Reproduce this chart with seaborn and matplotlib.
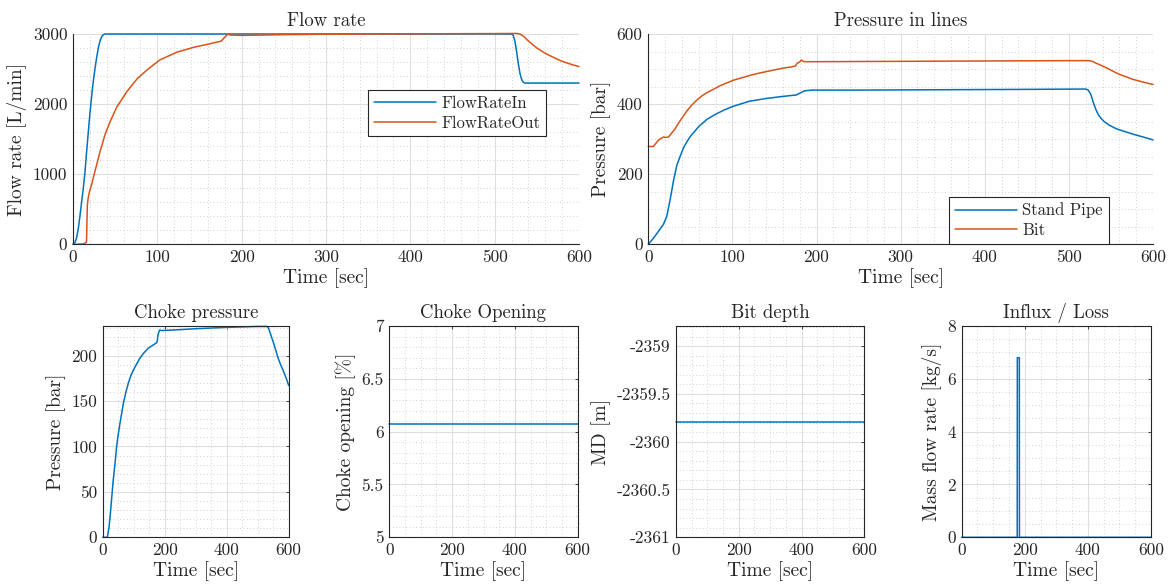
import matplotlib
matplotlib.use("Agg")
import matplotlib.pyplot as plt
import seaborn as sns
from matplotlib.ticker import MultipleLocator, FuncFormatter

# ---- Flow rate [L/min] ----
flow_in_t = [0, 2, 4, 6, 8, 10, 12, 14, 16, 18, 20, 22, 24, 26, 28, 30, 32, 34, 36, 38,
             520, 522, 524, 526, 528, 530, 532, 534, 536, 600]
flow_in = [0, 20, 80, 200, 380, 580, 780, 1000, 1300, 1580, 1860, 2100, 2320, 2500, 2660,
           2800, 2900, 2960, 2990, 3000,
           3000, 2980, 2900, 2750, 2580, 2440, 2350, 2310, 2300, 2300]
flow_out_t = [0, 12, 15, 16, 17, 18, 19.5, 22, 26, 32, 38, 44, 52, 64, 76, 88, 103, 123, 143,
              162, 176, 178, 182, 184, 186, 200, 250, 300, 400, 500, 526, 530, 535, 540, 550,
              560, 570, 580, 590, 600]
flow_out = [0, 5, 20, 30, 560, 660, 750, 850, 1040, 1320, 1565, 1750, 1960, 2180, 2360, 2490,
            2630, 2740, 2810, 2860, 2900, 2930, 2980, 3000, 2985, 2980, 2990, 2997, 3002, 3006,
            3008, 3000, 2960, 2900, 2800, 2725, 2665, 2610, 2570, 2535]

# ---- Pressure in lines [bar] ----
sp_t = [0, 6, 12, 18, 22, 26, 30, 34, 38, 42, 46, 50, 55, 60, 70, 80, 90, 100, 120, 140, 160,
        176, 180, 186, 195, 250, 350, 450, 520, 523, 526, 529, 532, 535, 538, 542, 548, 556,
        566, 578, 590, 600]
sp_p = [0, 17, 37, 57, 80, 128, 182, 226, 252, 276, 293, 308, 322, 336, 357, 371, 383, 393,
        408, 416, 422, 426, 431, 438, 440, 440, 441, 442, 443, 440, 428, 405, 385, 370, 360,
        350, 340, 330, 322, 313, 305, 298]
bit_t = [0, 6, 9, 12, 15, 18, 21, 24, 28, 32, 36, 40, 46, 52, 58, 64, 70, 78, 85, 93, 101, 111,
         121, 131, 141, 151, 161, 170, 175, 176.5, 178, 180, 182, 183, 184, 186, 200, 300, 400,
         500, 524, 528, 532, 537, 545, 553, 561, 569, 577, 585, 593, 600]
bit_p = [279, 279, 288, 297, 302, 306, 305, 306, 318, 330, 346, 360, 381, 398, 412, 424, 433,
         443, 452, 460, 468, 475, 482, 488, 493, 498, 503, 506, 509, 515, 518, 520, 526, 524,
         522, 521, 521, 522, 523, 524, 524, 522, 517, 512, 503, 493, 484, 477, 470, 465, 460,
         456]

# ---- Choke pressure [bar] ----
choke_t = [0, 15, 20, 24, 29, 34, 40, 45, 50, 56, 62, 67, 75, 83, 91, 99, 110, 120, 133, 147,
           160, 174, 176, 178, 183, 190, 250, 300, 400, 500, 530, 534, 540, 550, 560, 566,
           575, 583, 592, 600]
choke_p = [0, 0, 10, 23, 43, 63, 82, 100, 113, 126, 138, 148, 160, 170, 178, 184, 191, 197,
           203, 208, 211, 214, 216, 222, 228, 227.5, 228.5, 229.5, 231, 232, 232, 231, 225,
           215, 204, 197, 189, 183, 175, 167]

# ---- Choke opening [%], bit depth [m], influx/loss [kg/s] ----
opening_t = [0, 600]
opening = [6.07, 6.07]
depth_t = [0, 600]
depth = [-2359.79, -2359.79]
influx_t = [0, 176, 176.3, 182.7, 183, 600]
influx = [0, 0, 6.8, 6.8, 0, 0]

BLUE = "#0072BD"
ORANGE = "#D95319"
INK = "#262626"

sns.set_theme(style="white")
plt.rcParams.update({
    "font.family": ["cmr10", "DejaVu Serif"],
    "mathtext.fontset": "cm",
    "axes.unicode_minus": False,
    "axes.formatter.use_mathtext": False,
    "text.color": INK,
    "axes.labelcolor": INK,
    "xtick.color": INK,
    "ytick.color": INK,
    "axes.edgecolor": INK,
    "axes.linewidth": 0.8,
})

fig = plt.figure(figsize=(11.73, 5.87), dpi=100)
W, H = 1173.0, 587.0


def make_axes(x0, x1, ytop, ybot):
    return fig.add_axes([x0 / W, 1 - ybot / H, (x1 - x0) / W, (ybot - ytop) / H])


fmt = FuncFormatter(lambda v, p: f"{v:g}")


def style(ax, title, xlabel, ylabel, xlim, ylim, xmaj, xmin, ymaj, ymin, box, ticklen):
    ax.set_xlim(*xlim)
    ax.set_ylim(*ylim)
    ax.xaxis.set_major_locator(MultipleLocator(xmaj))
    ax.xaxis.set_minor_locator(MultipleLocator(xmin))
    ax.yaxis.set_major_locator(MultipleLocator(ymaj))
    ax.yaxis.set_minor_locator(MultipleLocator(ymin))
    ax.xaxis.set_major_formatter(fmt)
    ax.yaxis.set_major_formatter(fmt)
    ax.grid(which="major", color="#dedede", lw=0.8, ls="-")
    ax.grid(which="minor", color="#c4c4c4", lw=0.6, ls=(0, (1, 3)))
    ax.set_axisbelow(True)
    ax.tick_params(which="major", direction="in", length=ticklen, width=0.6,
                   labelsize=12.5, top=box, right=box, pad=4)
    ax.tick_params(which="minor", length=0)
    ax.spines["top"].set_visible(box)
    ax.spines["right"].set_visible(box)
    ax.set_title(title, fontsize=13.5, pad=6)
    ax.set_xlabel(xlabel, fontsize=14, labelpad=2)
    ax.set_ylabel(ylabel, fontsize=14, labelpad=4)
    for ln in ax.get_lines():
        ln.set_clip_on(False)


def legend(ax, x, y):
    lg = ax.legend(loc="upper left", bbox_to_anchor=(x / W, 1 - y / H),
                   bbox_transform=fig.transFigure, borderaxespad=0, fontsize=12,
                   handlelength=3.7, handletextpad=0.35, labelspacing=0.25, borderpad=0.35,
                   fancybox=False, framealpha=1, edgecolor=INK)
    lg.get_frame().set_linewidth(0.8)


# Flow rate
ax1 = make_axes(73, 579, 34, 244.3)
sns.lineplot(x=flow_in_t, y=flow_in, ax=ax1, color=BLUE, lw=1.1, estimator=None,
             sort=False, label="FlowRateIn")
sns.lineplot(x=flow_out_t, y=flow_out, ax=ax1, color=ORANGE, lw=1.1, estimator=None,
             sort=False, label="FlowRateOut")
style(ax1, "Flow rate", "Time [sec]", "Flow rate [L/min]", (0, 600), (0, 3000),
      100, 20, 1000, 200, False, 5)
legend(ax1, 368, 90)

# Pressure in lines
ax2 = make_axes(648.3, 1153, 34, 244.3)
sns.lineplot(x=sp_t, y=sp_p, ax=ax2, color=BLUE, lw=1.1, estimator=None, sort=False,
             label="Stand Pipe")
sns.lineplot(x=bit_t, y=bit_p, ax=ax2, color=ORANGE, lw=1.1, estimator=None, sort=False,
             label="Bit")
style(ax2, "Pressure in lines", "Time [sec]", "Pressure [bar]", (0, 600), (0, 600),
      100, 20, 200, 50, False, 5)
legend(ax2, 949, 196.7)

# Choke pressure
ax3 = make_axes(102.7, 288.7, 326, 537.3)
sns.lineplot(x=choke_t, y=choke_p, ax=ax3, color=BLUE, lw=1.1, estimator=None, sort=False)
style(ax3, "Choke pressure", "Time [sec]", "Pressure [bar]", (0, 600), (0, 232.5),
      200, 50, 50, 10, True, 2.5)

# Choke opening
ax4 = make_axes(389.3, 577.7, 326, 537.3)
sns.lineplot(x=opening_t, y=opening, ax=ax4, color=BLUE, lw=1.1, estimator=None, sort=False)
style(ax4, "Choke Opening", "Time [sec]", "Choke opening [%]", (0, 600), (5, 7),
      200, 50, 0.5, 0.1, True, 2.5)

# Bit depth
ax5 = make_axes(676, 864.3, 326, 537.3)
sns.lineplot(x=depth_t, y=depth, ax=ax5, color=BLUE, lw=1.1, estimator=None, sort=False)
style(ax5, "Bit depth", "Time [sec]", "MD [m]", (0, 600), (-2361, -2358.79),
      200, 50, 0.5, 0.1, True, 2.5)

# Influx / Loss
ax6 = make_axes(961.7, 1151, 326, 537.3)
sns.lineplot(x=influx_t, y=influx, ax=ax6, color=BLUE, lw=1.1, estimator=None, sort=False)
style(ax6, "Influx / Loss", "Time [sec]", "Mass flow rate [kg/s]", (0, 600), (0, 8),
      200, 50, 2, 0.5, True, 2.5)

fig.savefig("out.png", dpi=100, facecolor="white")
